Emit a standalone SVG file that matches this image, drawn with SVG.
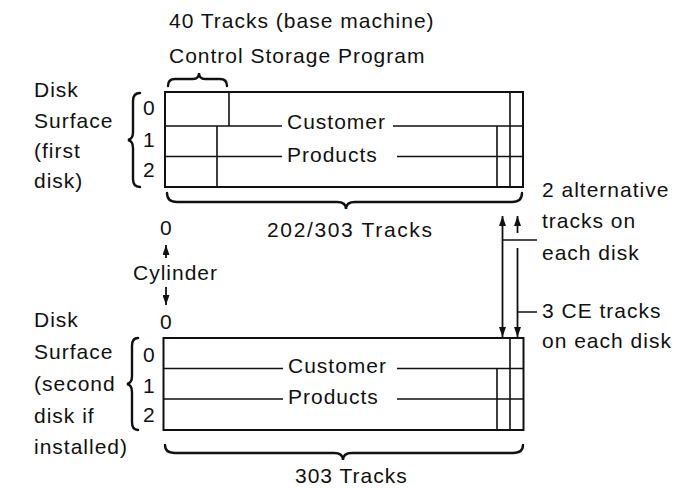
<svg xmlns="http://www.w3.org/2000/svg" width="682" height="488" viewBox="0 0 682 488">
<style>
text{font-family:"Liberation Sans",Arial,sans-serif;font-size:21px;letter-spacing:1px;fill:#111}
.box{fill:none;stroke:#111;stroke-width:2}
.ln{fill:none;stroke:#111;stroke-width:1.6}
.br{fill:none;stroke:#111;stroke-width:2.4;stroke-linecap:round}
.ar{fill:none;stroke:#111;stroke-width:1.8}
</style>
<defs>
<marker id="ah" viewBox="0 0 10 7" refX="10" refY="3.5" markerWidth="10" markerHeight="7" markerUnits="userSpaceOnUse" orient="auto-start-reverse">
<path d="M0,0 L10,3.5 L0,7 z" fill="#111"/>
</marker>
</defs>
<rect width="682" height="488" fill="#fff"/>

<g id="title">
<text x="169" y="28">40 Tracks (base machine)</text>
<text x="169" y="63">Control Storage Program</text>
<path class="br" d="M168,86 Q168,79 175,79 L193,79 Q199,79 199,73 Q199,79 205,79 L220,79 Q227,79 227,86"/>
</g>

<g id="disk1-label">
<text x="34" y="97">Disk</text>
<text x="34" y="128">Surface</text>
<text x="34" y="158">(first</text>
<text x="34" y="188">disk)</text>
<path class="br" d="M140,93 Q133,93 133,101 L133,132 Q133,139 128,140 Q133,141 133,148 L133,179 Q133,187 140,187"/>
<text x="143" y="115">0</text>
<text x="143" y="147">1</text>
<text x="143" y="177">2</text>
</g>

<g id="disk1">
<rect class="box" x="165" y="92" width="358" height="95"/>
<path class="ln" d="M229,92 V126 M217,126 V187 M165,126 H282 M393,126 H523 M165,156.5 H282 M397,156.5 H523 M497,126 V187 M510,92 V187"/>
<text x="287" y="129">Customer</text>
<text x="287" y="161.5">Products</text>
<path class="br" d="M167,193 Q167,202 177,202 L337,202 Q346,202 346,209 Q346,202 355,202 L512,202 Q522,202 522,193"/>
<text x="267" y="237" textLength="166" lengthAdjust="spacing">202/303 Tracks</text>
</g>

<g id="cylinder">
<text x="160" y="235">0</text>
<text x="133" y="280">Cylinder</text>
<text x="160" y="329">0</text>
</g>

<g id="disk2-label">
<text x="34" y="327">Disk</text>
<text x="34" y="359">Surface</text>
<text x="34" y="391">(second</text>
<text x="34" y="423">disk if</text>
<text x="34" y="454">installed)</text>
<path class="br" d="M138,338 Q132,338 132,346 L132,376 Q132,383 127,384 Q132,385 132,392 L132,422 Q132,430 138,430"/>
<text x="143" y="361.5">0</text>
<text x="143" y="393">1</text>
<text x="143" y="421.5">2</text>
</g>

<g id="disk2">
<rect class="box" x="163.5" y="338" width="360" height="92"/>
<path class="ln" d="M163.5,368.5 H283 M397,368.5 H523.5 M163.5,399 H283 M397,399 H523.5 M510,338 V430 M497,368.5 V430"/>
<text x="288" y="373">Customer</text>
<text x="288" y="404">Products</text>
<path class="br" d="M165,445 Q165,453 175,453 L334,453 Q343,453 343,460 Q343,453 352,453 L513,453 Q523,453 523,445"/>
<text x="295" y="483">303 Tracks</text>
</g>

<g id="right-labels">
<text x="542" y="197">2 alternative</text>
<text x="542" y="228">tracks on</text>
<text x="542" y="260">each disk</text>
<text x="542" y="318">3 CE tracks</text>
<text x="542" y="348">on each disk</text>
</g>

<g id="connectors">
<path class="ar" d="M166,258 V245" marker-end="url(#ah)"/>
<path class="ar" d="M166,287 V305" marker-end="url(#ah)"/>
<path class="ar" d="M502.5,216 V337" marker-start="url(#ah)" marker-end="url(#ah)"/>
<path class="ar" d="M517.5,233 V216" marker-end="url(#ah)"/>
<path class="ar" d="M517.5,248 V337" marker-end="url(#ah)"/>
<path class="ln" d="M502.5,240 H537 M517.5,312 H537"/>
</g>
</svg>
